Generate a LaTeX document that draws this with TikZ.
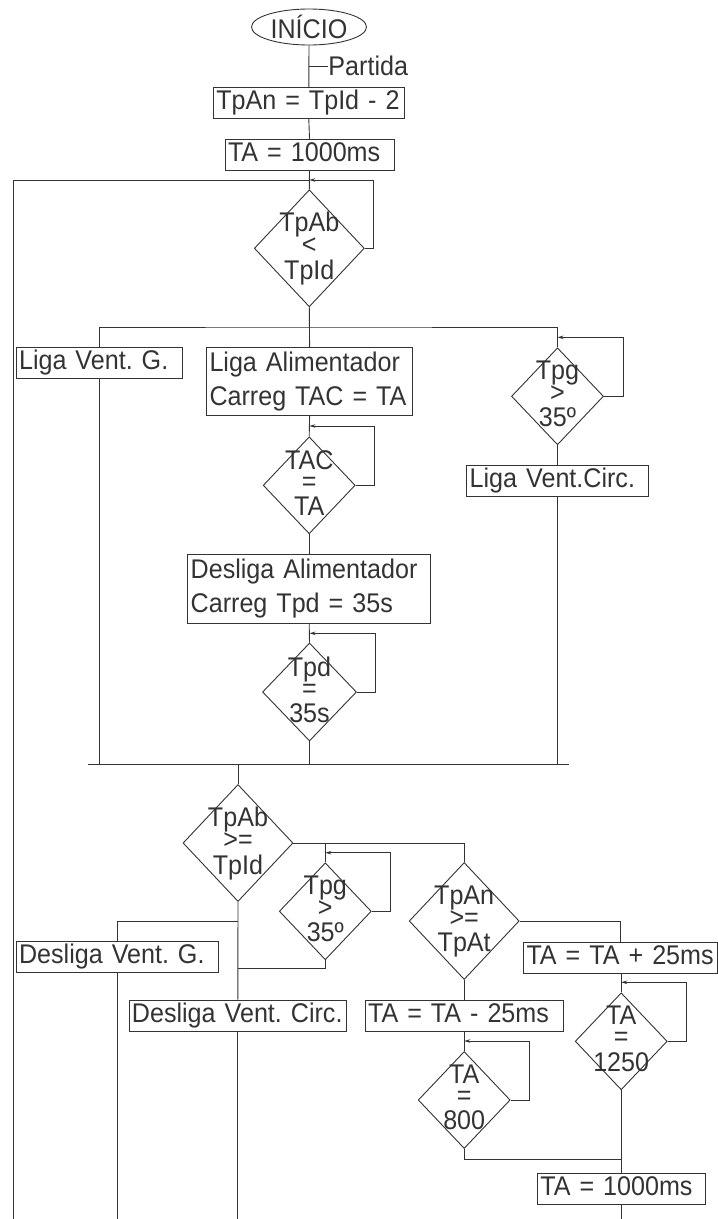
\documentclass[tikz,border=0pt]{standalone}
\usepackage{fontspec}
\setmainfont{Liberation Sans}[FakeStretch=0.93]
\usetikzlibrary{shapes.geometric, arrows.meta}

\newcommand{\fbig}{\fontsize{27}{34}\selectfont\frenchspacing}
\newcommand{\fcnd}{\fontsize{27}{21}\selectfont}
\newcommand{\cnd}[3]{\makebox[0pt]{\begin{tabular}{@{}c@{}}#1\\#2\\#3\end{tabular}}}

\begin{document}
\begin{tikzpicture}[x=1pt, y=-1pt, color=black!80, line width=0.9pt,
  box/.style={draw, font=\fbig, align=left, inner xsep=3pt, inner ysep=3pt,
    text height=19.5pt, text depth=5.5pt},
  box2/.style={box, text height=, text depth=, minimum height=68pt},
  cond/.style={draw, diamond, font=\fcnd, inner sep=0pt, text height=13.4pt,
    text depth=0pt, minimum width=110pt, minimum height=117pt},
  conds/.style={cond, minimum width=92pt, minimum height=97pt},
  term/.style={draw, ellipse, font=\fbig, inner sep=0pt, minimum width=115pt,
    minimum height=36pt},
  back/.style={-{Stealth[length=6pt, width=3.5pt]}},
  bar/.style={line width=1.4pt}]
  \useasboundingbox (0,0) rectangle (718,1219);
  % --- Start ---
  \node[term] (start) at (309,27) {INÍCIO};
  \node[font=\fbig, anchor=west, inner sep=0pt] (part) at (328,66) {Partida};
  \node[box, text width=185pt] (tpan) at (308.8,102.8) {TpAn = TpId - 2};
  \node[box, text width=163pt] (ta0) at (309.5,154.7) {TA = 1000ms};
  \node[cond] (abid) at (309.3,248.3) {\cnd{TpAb}{<}{TpId}};
  % --- Parallel block ---
  \node[box, text width=160.3pt] (ligaG) at (99.2,362.8) {Liga Vent. G.};
  \node[box2, text width=200.2pt] (ligaA) at (309.6,381.5) {Liga Alimentador\\Carreg TAC = TA};
  \node[conds] (tpg1) at (557.5,396.3) {\cnd{Tpg}{>}{35º}};
  \node[conds] (tac) at (309.2,485.3) {\cnd{TAC}{=}{TA}};
  \node[box, text width=175.6pt] (ligaC) at (557.5,480.8) {Liga Vent.Circ.};
  \node[box2, text width=237pt, minimum height=69pt] (deslA) at (309.2,588.7) {Desliga Alimentador\\Carreg Tpd = 35s};
  \node[conds, minimum width=94pt, minimum height=98pt] (tpd) at (309.5,692) {\cnd{Tpd}{=}{35s}};
  % --- Lower block ---
  \node[cond] (abid2) at (238,843) {\cnd{TpAb}{>=}{TpId}};
  \node[conds] (tpg2) at (325.3,911.3) {\cnd{Tpg}{>}{35º}};
  \node[cond] (anat) at (464.2,921) {\cnd{TpAn}{>=}{TpAt}};
  \node[box, text width=196.3pt] (deslG) at (117.2,956.7) {Desliga Vent. G.};
  \node[box, text width=188pt] (mais) at (620.5,957.5) {TA = TA + 25ms};
  \node[box, text width=211.7pt] (deslC) at (237.8,1015.5) {Desliga Vent. Circ.};
  \node[box, text width=192.3pt] (menos) at (464.2,1015.5) {TA = TA - 25ms};
  \node[conds] (t1250) at (621.2,1041.3) {\cnd{TA}{=}{1250}};
  \node[conds] (t800) at (464.2,1100) {\cnd{TA}{=}{800}};
  \node[box, text width=161.7pt] (ta1) at (621.2,1188.7) {TA = 1000ms};
  % --- Junction points ---
  \coordinate (btm) at (13,1219);
  \coordinate (s1) at (309.3,327);
  \coordinate (jL) at (88,764.3);
  \coordinate (jR) at (569,764.3);
  \coordinate (s5) at (238,921.7);
  \coordinate (k6) at (238,968.3);
  \coordinate (s9) at (621.2,1159);
  \coordinate (r-abid) at (309.3,180);
  \coordinate (r-tpg1) at (557.5,337.3);
  \coordinate (r-tac) at (309.4,426);
  \coordinate (r-tpd) at (309.5,633.3);
  \coordinate (r-tpg2) at (325.3,852.7);
  \coordinate (r-t1250) at (621.2,982.3);
  \coordinate (r-t800) at (464.2,1041);
  % --- Flow lines ---
  \draw (start.south) -- (tpan.north);
  \draw (start.south |- part.west) -- (part.west);
  \draw (tpan.south) -- (ta0.north);
  \draw (ta0.south) -- (abid.north);
  \draw (btm) |- (r-abid);
  \draw (abid.south) -- (ligaA.north);
  \draw (ligaG.north) |- (s1) -| (tpg1.north);
  \draw (ligaA.south) -- (tac.north);
  \draw (tac.south) -- (deslA.north);
  \draw (deslA.south) -- (tpd.north);
  \draw (tpg1.south) -- (ligaC.north);
  \draw[bar] (jL) -- (jR);
  \foreach \n in {ligaG, tpd, ligaC}
    \draw (\n.south) -- (\n.south |- jL);
  \draw (abid2.north |- jL) -- (abid2.north);
  \draw (abid2.east) -| (anat.north);
  \draw (abid2.east -| tpg2.north) -- (tpg2.north);
  \draw (abid2.south) -- (deslC.north);
  \draw (s5) -| (deslG.north);
  \draw (tpg2.south) |- (k6);
  \draw (anat.south) -- (menos.north);
  \draw (anat.east) -| (mais.north);
  \draw (t1250.north |- mais.south) -- (t1250.north);
  \draw (menos.south) -- (t800.north);
  \draw (t1250.south) -- (ta1.north);
  \draw (t800.south) |- (s9);
  \foreach \n in {deslG, deslC, ta1}
    \draw (\n.south) -- (\n.south |- btm);
  % --- Wait loops ---
  \foreach \d/\dx in {abid/9, tpg1/19, tac/19, tpd/18, tpg2/19, t1250/18.5, t800/19}
    \draw[back] (\d.east) -- ++(\dx,0) |- (r-\d);
\end{tikzpicture}
\end{document}
